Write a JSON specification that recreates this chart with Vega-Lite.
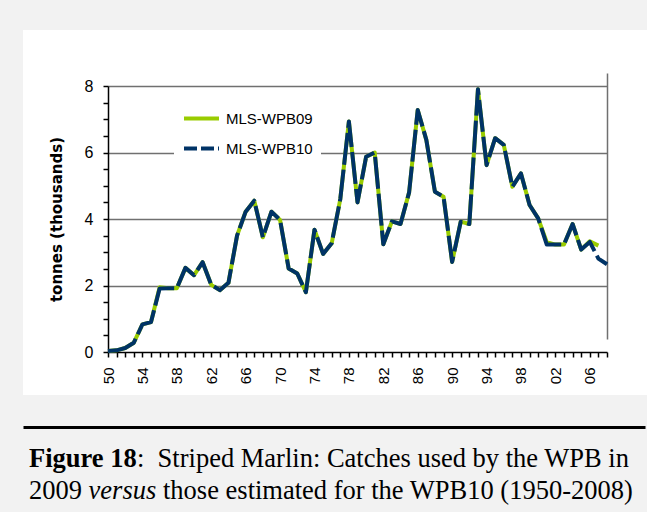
{
  "$schema": "https://vega.github.io/schema/vega-lite/v6.json",
  "background": "#f2f2f2",
  "padding": {"left": 23, "top": 30, "right": 0, "bottom": 0},
  "spacing": 32,
  "config": {"view": {"stroke": null}, "font": "Liberation Sans"},
  "vconcat": [
    {
      "width": 624,
      "height": 365,
      "view": {"fill": "white", "stroke": null},
      "data": {"values": [
        {"year": 1950, "MLS-WPB09": 0.03, "MLS-WPB10": 0.03},
        {"year": 1951, "MLS-WPB09": 0.05, "MLS-WPB10": 0.05},
        {"year": 1952, "MLS-WPB09": 0.12, "MLS-WPB10": 0.12},
        {"year": 1953, "MLS-WPB09": 0.28, "MLS-WPB10": 0.28},
        {"year": 1954, "MLS-WPB09": 0.83, "MLS-WPB10": 0.83},
        {"year": 1955, "MLS-WPB09": 0.9, "MLS-WPB10": 0.9},
        {"year": 1956, "MLS-WPB09": 1.95, "MLS-WPB10": 1.91},
        {"year": 1957, "MLS-WPB09": 1.92, "MLS-WPB10": 1.92},
        {"year": 1958, "MLS-WPB09": 1.92, "MLS-WPB10": 1.92},
        {"year": 1959, "MLS-WPB09": 2.53, "MLS-WPB10": 2.53},
        {"year": 1960, "MLS-WPB09": 2.31, "MLS-WPB10": 2.31},
        {"year": 1961, "MLS-WPB09": 2.7, "MLS-WPB10": 2.7},
        {"year": 1962, "MLS-WPB09": 2.02, "MLS-WPB10": 2.02},
        {"year": 1963, "MLS-WPB09": 1.86, "MLS-WPB10": 1.86},
        {"year": 1964, "MLS-WPB09": 2.08, "MLS-WPB10": 2.08},
        {"year": 1965, "MLS-WPB09": 3.5, "MLS-WPB10": 3.5},
        {"year": 1966, "MLS-WPB09": 4.22, "MLS-WPB10": 4.22},
        {"year": 1967, "MLS-WPB09": 4.55, "MLS-WPB10": 4.55},
        {"year": 1968, "MLS-WPB09": 3.45, "MLS-WPB10": 3.45},
        {"year": 1969, "MLS-WPB09": 4.22, "MLS-WPB10": 4.22},
        {"year": 1970, "MLS-WPB09": 3.97, "MLS-WPB10": 3.97},
        {"year": 1971, "MLS-WPB09": 2.51, "MLS-WPB10": 2.51},
        {"year": 1972, "MLS-WPB09": 2.36, "MLS-WPB10": 2.36},
        {"year": 1973, "MLS-WPB09": 1.8, "MLS-WPB10": 1.8},
        {"year": 1974, "MLS-WPB09": 3.68, "MLS-WPB10": 3.68},
        {"year": 1975, "MLS-WPB09": 2.95, "MLS-WPB10": 2.95},
        {"year": 1976, "MLS-WPB09": 3.27, "MLS-WPB10": 3.27},
        {"year": 1977, "MLS-WPB09": 4.6, "MLS-WPB10": 4.6},
        {"year": 1978, "MLS-WPB09": 6.93, "MLS-WPB10": 6.93},
        {"year": 1979, "MLS-WPB09": 4.5, "MLS-WPB10": 4.5},
        {"year": 1980, "MLS-WPB09": 5.87, "MLS-WPB10": 5.87},
        {"year": 1981, "MLS-WPB09": 6.0, "MLS-WPB10": 6.0},
        {"year": 1982, "MLS-WPB09": 3.24, "MLS-WPB10": 3.24},
        {"year": 1983, "MLS-WPB09": 3.93, "MLS-WPB10": 3.93},
        {"year": 1984, "MLS-WPB09": 3.85, "MLS-WPB10": 3.85},
        {"year": 1985, "MLS-WPB09": 4.8, "MLS-WPB10": 4.8},
        {"year": 1986, "MLS-WPB09": 7.28, "MLS-WPB10": 7.28},
        {"year": 1987, "MLS-WPB09": 6.38, "MLS-WPB10": 6.38},
        {"year": 1988, "MLS-WPB09": 4.82, "MLS-WPB10": 4.82},
        {"year": 1989, "MLS-WPB09": 4.67, "MLS-WPB10": 4.67},
        {"year": 1990, "MLS-WPB09": 2.71, "MLS-WPB10": 2.71},
        {"year": 1991, "MLS-WPB09": 3.92, "MLS-WPB10": 3.92},
        {"year": 1992, "MLS-WPB09": 3.85, "MLS-WPB10": 3.85},
        {"year": 1993, "MLS-WPB09": 7.9, "MLS-WPB10": 7.9},
        {"year": 1994, "MLS-WPB09": 5.62, "MLS-WPB10": 5.62},
        {"year": 1995, "MLS-WPB09": 6.43, "MLS-WPB10": 6.43},
        {"year": 1996, "MLS-WPB09": 6.23, "MLS-WPB10": 6.23},
        {"year": 1997, "MLS-WPB09": 4.97, "MLS-WPB10": 4.97},
        {"year": 1998, "MLS-WPB09": 5.37, "MLS-WPB10": 5.37},
        {"year": 1999, "MLS-WPB09": 4.42, "MLS-WPB10": 4.42},
        {"year": 2000, "MLS-WPB09": 4.02, "MLS-WPB10": 4.02},
        {"year": 2001, "MLS-WPB09": 3.3, "MLS-WPB10": 3.23},
        {"year": 2002, "MLS-WPB09": 3.23, "MLS-WPB10": 3.23},
        {"year": 2003, "MLS-WPB09": 3.23, "MLS-WPB10": 3.23},
        {"year": 2004, "MLS-WPB09": 3.85, "MLS-WPB10": 3.85},
        {"year": 2005, "MLS-WPB09": 3.08, "MLS-WPB10": 3.08},
        {"year": 2006, "MLS-WPB09": 3.33, "MLS-WPB10": 3.31},
        {"year": 2007, "MLS-WPB09": 3.2, "MLS-WPB10": 2.81},
        {"year": 2008, "MLS-WPB10": 2.64}
      ]},
      "transform": [{"fold": ["MLS-WPB09", "MLS-WPB10"], "as": ["series", "catch"]}],
      "encoding": {
        "x": {
          "field": "year", "type": "quantitative",
          "scale": {"domain": [1950, 2008], "range": [85, 584], "nice": false, "zero": false},
          "axis": {
            "title": null, "orient": "bottom", "offset": -43,
            "values": [1950,1951,1952,1953,1954,1955,1956,1957,1958,1959,1960,1961,1962,1963,1964,1965,1966,1967,1968,1969,1970,1971,1972,1973,1974,1975,1976,1977,1978,1979,1980,1981,1982,1983,1984,1985,1986,1987,1988,1989,1990,1991,1992,1993,1994,1995,1996,1997,1998,1999,2000,2001,2002,2003,2004,2005,2006,2007,2008],
            "labelExpr": "(datum.value - 1950) % 4 === 0 ? substring(toString(datum.value), 2, 4) : ''",
            "labelAngle": -90, "labelAlign": "right", "labelBaseline": "middle",
            "labelPadding": 10, "labelFontSize": 15, "labelColor": "black", "labelFont": "Liberation Sans",
            "labelOverlap": false, "labelFlush": false, "labelBound": false,
            "tickSize": 5, "tickColor": "black", "tickWidth": 1.5,
            "domainColor": "black", "domainWidth": 1.5,
            "grid": true, "gridColor": "#707070", "gridWidth": 1.5,
            "gridOpacity": {"condition": {"test": "datum.value === 2008", "value": 1}, "value": 0}
          }
        },
        "y": {
          "field": "catch", "type": "quantitative",
          "scale": {"domain": [0, 8], "range": [322, 56], "nice": false, "zero": true},
          "axis": {
            "title": "tonnes (thousands)", "titleFont": "DejaVu Sans", "titleFontWeight": "bold",
            "titleFontSize": 15, "titleColor": "black", "titlePadding": 20,
            "orient": "left", "offset": -85,
            "values": [0,0.5,1,1.5,2,2.5,3,3.5,4,4.5,5,5.5,6,6.5,7,7.5,8],
            "labelExpr": "datum.value % 2 === 0 ? toString(datum.value) : ''",
            "labelPadding": 10, "labelFontSize": 16, "labelColor": "black", "labelFont": "Liberation Sans",
            "labelOverlap": false, "labelFlush": false,
            "tickSize": 5, "tickColor": "black", "tickWidth": 1.5,
            "domainColor": "black", "domainWidth": 1.5,
            "grid": true, "gridColor": "#707070", "gridWidth": 1.5,
            "gridOpacity": {"condition": {"test": "datum.value % 2 === 0 && datum.value > 0", "value": 1}, "value": 0}
          }
        },
        "color": {
          "field": "series", "type": "nominal",
          "scale": {"domain": ["MLS-WPB09", "MLS-WPB10"], "range": ["#99cc00", "#003366"]},
          "legend": {
            "title": null, "orient": "none", "legendX": 151, "legendY": 61,
            "fillColor": "white", "padding": 8,
            "symbolType": "stroke", "symbolSize": 1225, "symbolStrokeWidth": 4,
            "labelFont": "Liberation Sans", "labelFontSize": 15, "labelColor": "black",
            "labelOffset": 5, "rowPadding": 2,
            "encode": {"symbols": {"update": {"strokeDash": {"signal": "datum.value === 'MLS-WPB10' ? [13, 4] : [1, 0]"}}}}
          }
        }
      },
      "layer": [
        {
          "transform": [{"filter": "datum.series === 'MLS-WPB09'"}],
          "mark": {"type": "line", "strokeWidth": 4, "strokeJoin": "round"}
        },
        {
          "transform": [{"filter": "datum.series === 'MLS-WPB10'"}],
          "mark": {"type": "line", "strokeWidth": 4, "strokeJoin": "round", "strokeDash": [32, 5]}
        }
      ]
    },
    {
      "width": 622,
      "height": 85,
      "view": {"fill": "#f2f2f2", "stroke": null},
      "encoding": {
        "x": {"datum": 0, "type": "quantitative", "scale": {"domain": [0, 1]},
              "axis": {"orient": "top", "title": null, "labels": false, "ticks": false, "grid": false,
                       "domain": true, "domainColor": "black", "domainWidth": 3}},
        "y": {"field": "line", "type": "ordinal",
              "scale": {"type": "point", "domain": ["1", "2"], "range": [40, 72], "padding": 0}, "axis": null},
        "text": {"field": "text"}
      },
      "layer": [
        {"data": {"values": [{"line": "1", "text": "Figure 18"}]},
         "mark": {"type": "text", "font": "Liberation Serif", "fontSize": 26.5, "fontWeight": "bold", "align": "left", "baseline": "alphabetic", "dx": 6, "color": "black"}},
        {"data": {"values": [{"line": "1", "text": ":\u00a0 Striped Marlin: Catches used by the WPB in"}]},
         "mark": {"type": "text", "font": "Liberation Serif", "fontSize": 26.5, "align": "left", "baseline": "alphabetic", "dx": 114, "color": "black"}},
        {"data": {"values": [{"line": "2", "text": "2009"}]},
         "mark": {"type": "text", "font": "Liberation Serif", "fontSize": 26.5, "align": "left", "baseline": "alphabetic", "dx": 6, "color": "black"}},
        {"data": {"values": [{"line": "2", "text": "versus"}]},
         "mark": {"type": "text", "font": "Liberation Serif", "fontSize": 26.5, "fontStyle": "italic", "align": "left", "baseline": "alphabetic", "dx": 65.6, "color": "black"}},
        {"data": {"values": [{"line": "2", "text": "those estimated for the WPB10 (1950-2008)"}]},
         "mark": {"type": "text", "font": "Liberation Serif", "fontSize": 26.5, "align": "left", "baseline": "alphabetic", "dx": 140, "color": "black"}}
      ]
    }
  ]
}
